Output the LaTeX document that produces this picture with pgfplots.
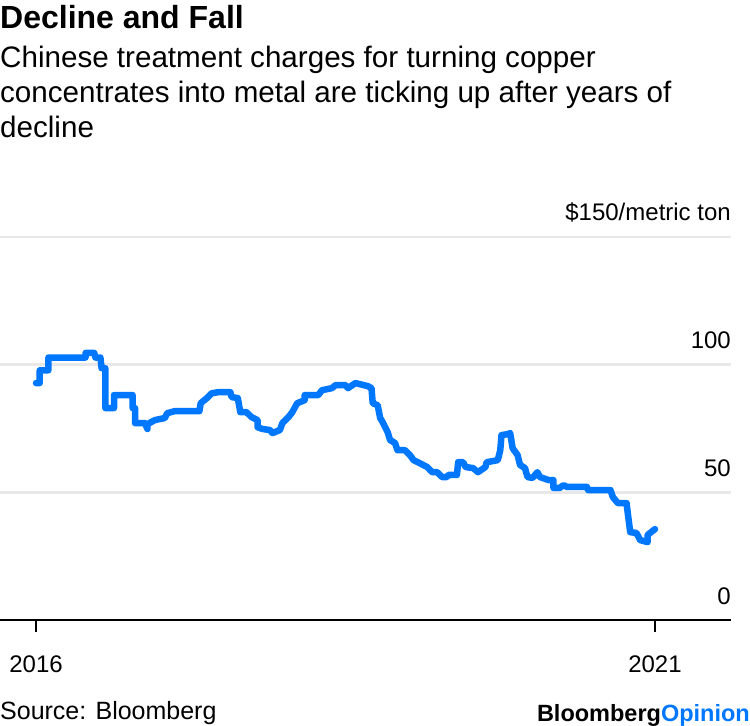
\documentclass[border=0pt]{standalone}
\usepackage{pgfplots}
\pgfplotsset{compat=1.18}
\usepackage{fontspec}
\setmainfont{Liberation Sans}
\definecolor{bblue}{RGB}{0,119,255}
\definecolor{gridgray}{RGB}{232,232,232}
\begin{document}
\begin{tikzpicture}[x=1bp,y=1bp]
\useasboundingbox (0bp,0bp) rectangle (750bp,726bp);
\node[anchor=base west, inner sep=0, font=\fontsize{32bp}{36bp}\selectfont\bfseries] at (0bp,697bp) {Decline and Fall};
\node[anchor=base west, inner sep=0, font=\fontsize{29.6bp}{35bp}\selectfont] at (0bp,658bp) {Chinese treatment charges for turning copper};
\node[anchor=base west, inner sep=0, font=\fontsize{29.6bp}{35bp}\selectfont] at (0bp,623bp) {concentrates into metal are ticking up after years of};
\node[anchor=base west, inner sep=0, font=\fontsize{29.6bp}{35bp}\selectfont] at (0bp,588bp) {decline};
\begin{axis}[
  at={(0bp,106bp)}, anchor=south west,
  scale only axis, width=731bp, height=383bp,
  xmin=2015.709, xmax=2021.614, ymin=0, ymax=150,
  axis x line*=bottom, axis y line*=right,
  x axis line style={black, line width=2.5bp},
  y axis line style={draw=none},
  xtick={2016,2021}, xticklabels={2016,2021},
  ytick={0,50,100,150}, yticklabels={0,50,100,\$150/metric ton},
  major tick length=12bp, tick align=outside,
  xtick style={black, line width=2bp},
  ytick style={draw=none},
  ymajorgrids, grid style={gridgray, line width=2.5bp},
  xticklabel style={anchor=base, inner sep=0, yshift=-40bp, font=\fontsize{24bp}{28bp}\selectfont},
  yticklabel style={anchor=base east, inner sep=0, xshift=-12bp, yshift=16bp, font=\fontsize{24bp}{28bp}\selectfont},
  clip=false,
]
\addplot[bblue, line width=6.5bp, line join=round, line cap=round] table {
x y
2016.00 92.8
2016.03 92.8
2016.03 97.8
2016.10 97.8
2016.10 102.8
2016.40 102.8
2016.40 104.6
2016.47 104.6
2016.48 102.8
2016.52 102.8
2016.53 98.6
2016.56 98.6
2016.56 83.0
2016.63 83.0
2016.63 88.1
2016.78 88.1
2016.78 83.0
2016.80 83.0
2016.80 77.1
2016.88 77.1
2016.90 74.8
2016.90 76.7
2016.96 78.3
2017.04 79.1
2017.06 81.0
2017.12 81.8
2017.32 81.8
2017.33 84.9
2017.38 86.9
2017.42 88.8
2017.47 89.2
2017.57 89.2
2017.58 87.3
2017.63 86.9
2017.65 81.4
2017.70 81.4
2017.74 79.5
2017.79 78.3
2017.79 75.5
2017.83 74.8
2017.89 74.4
2017.91 73.2
2017.97 74.4
2017.99 77.1
2018.04 79.5
2018.07 81.4
2018.11 84.9
2018.17 86.1
2018.17 88.1
2018.28 88.1
2018.31 90.0
2018.39 90.8
2018.42 92.0
2018.50 92.0
2018.52 90.8
2018.58 92.8
2018.68 91.6
2018.71 90.8
2018.72 84.9
2018.76 84.1
2018.78 79.1
2018.80 77.5
2018.84 73.6
2018.86 70.5
2018.90 69.3
2018.92 66.5
2018.98 66.5
2019.02 64.6
2019.05 62.6
2019.10 61.4
2019.16 59.9
2019.20 57.9
2019.24 57.9
2019.28 56.0
2019.32 56.0
2019.33 56.8
2019.40 56.8
2019.41 61.8
2019.45 61.8
2019.47 59.9
2019.53 59.5
2019.57 57.9
2019.63 59.9
2019.64 61.8
2019.73 62.6
2019.75 66.5
2019.76 72.4
2019.81 72.8
2019.83 73.2
2019.85 67.3
2019.89 64.6
2019.91 60.7
2019.95 59.5
2019.97 56.0
2020.01 55.6
2020.05 57.9
2020.07 56.0
2020.14 54.8
2020.18 54.8
2020.18 51.7
2020.23 51.7
2020.26 52.8
2020.29 52.1
2020.45 52.1
2020.46 50.9
2020.64 50.9
2020.66 48.1
2020.70 45.8
2020.77 45.8
2020.78 41.9
2020.80 34.4
2020.85 34.1
2020.88 31.3
2020.94 30.5
2020.94 33.3
2021.00 35.6
};
\end{axis}
\node[anchor=base west, inner sep=0, font=\fontsize{25bp}{30bp}\selectfont] at (0bp,7bp) {Source: Bloomberg};
\node[anchor=base east, inner sep=0, font=\fontsize{23.5bp}{28bp}\selectfont\bfseries] at (750bp,5bp) {Bloomberg\textcolor{bblue}{Opinion}};
\end{tikzpicture}
\end{document}
